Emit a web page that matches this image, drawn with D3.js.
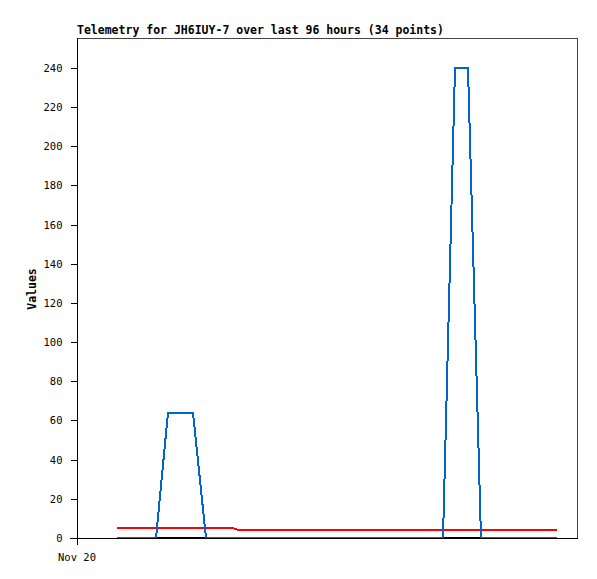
<!DOCTYPE html>
<html><head><meta charset="utf-8">
<script src="https://cdn.jsdelivr.net/npm/d3@7"></script>
<style>body{margin:0;background:#fff}</style>
</head><body>
<svg id="c" width="597" height="579"></svg>
<script>
// hours since left edge (Nov 20 00:00)
const times = [8, 10.6, 13.2, 15.8, 18.2, 20.7, 23.2, 25.8, 28.4, 31.2, 32.4, 36.2, 38.8, 41.4, 44.0, 46.6, 49.2, 51.8,
  54.4, 57.0, 59.6, 62.2, 64.8, 67.4, 70.0, 73.2, 75.6, 78.2, 80.8, 83.8, 86.9, 89.9, 93.0, 96.0];
const blueValues = [0, 0, 0, 0, 64, 64, 64, 0, 0, 0, 0, 0, 0, 0, 0, 0, 0, 0,
  0, 0, 0, 0, 0, 0, 0, 0, 240, 240, 0, 0, 0, 0, 0, 0];
const redValues = [5, 5, 5, 5, 5, 5, 5, 5, 5, 5, 4, 4, 4, 4, 4, 4, 4, 4,
  4, 4, 4, 4, 4, 4, 4, 4, 4, 4, 4, 4, 4, 4, 4, 4];
const blackValues = times.map(() => 0);
const yTicks = [0, 20, 40, 60, 80, 100, 120, 140, 160, 180, 200, 220, 240];
const xTickLabels = [{t: 0, label: "Nov 20"}];
const title = "Telemetry for JH6IUY-7 over last 96 hours (34 points)";

const svg = d3.select("#c");
const L = 77, R = 577, T = 38, B = 538;
const x = d3.scaleLinear().domain([0, 100]).range([L, R]);
const y = d3.scaleLinear().domain([0, 255.3]).range([B, T]);

// frame (top/right)
svg.append("path").attr("d", `M${L},${T+0.5}H${R+0.5}V${B}`).attr("fill","none")
  .attr("stroke","#444").attr("stroke-width",1).attr("shape-rendering","crispEdges");

const line = vals => d3.line().x((d,i)=>x(times[i])).y(d=>y(d))(vals);
function drawSeries(vals, color){
  svg.append("path").attr("d", line(vals)).attr("fill","none").attr("stroke",color)
    .attr("stroke-width",2).attr("stroke-linejoin","miter").attr("shape-rendering","crispEdges");
}
drawSeries(blackValues, "#000");
drawSeries(redValues, "#ff0000");
drawSeries(blueValues, "#0066cc");

// y axis
const ya = svg.append("g").attr("transform",`translate(${L+0.5},0)`)
  .call(d3.axisLeft(y).tickValues(yTicks).tickSize(7).tickPadding(8).tickSizeOuter(0));
ya.select(".domain").remove();
ya.append("line").attr("x1",0).attr("x2",0).attr("y1",T).attr("y2",B+7).attr("stroke","#000").attr("shape-rendering","crispEdges");
ya.selectAll(".tick line").attr("shape-rendering","crispEdges");
ya.selectAll("text").attr("font-family","DejaVu Sans Mono").attr("font-size","10.5px").attr("fill","#000");

// x axis
const xa = svg.append("g").attr("transform",`translate(0,${B+0.5})`);
xa.append("line").attr("x1",L-7).attr("x2",R+0.5).attr("stroke","#000").attr("shape-rendering","crispEdges");
xa.selectAll("text").data(xTickLabels).join("text").attr("x",d=>x(d.t)).attr("y",22)
  .attr("text-anchor","middle").attr("font-family","DejaVu Sans Mono").attr("font-size","10.5px").text(d=>d.label);

// title
svg.append("text").attr("x",L).attr("y",34).attr("font-family","DejaVu Sans Mono").attr("font-weight","bold")
  .attr("font-size","11.5px").text(title);
// y label
svg.append("text").attr("transform","translate(36,289) rotate(-90)").attr("text-anchor","middle")
  .attr("font-family","DejaVu Sans Mono").attr("font-weight","bold").attr("font-size","11.5px").text("Values");
</script>
</body></html>
